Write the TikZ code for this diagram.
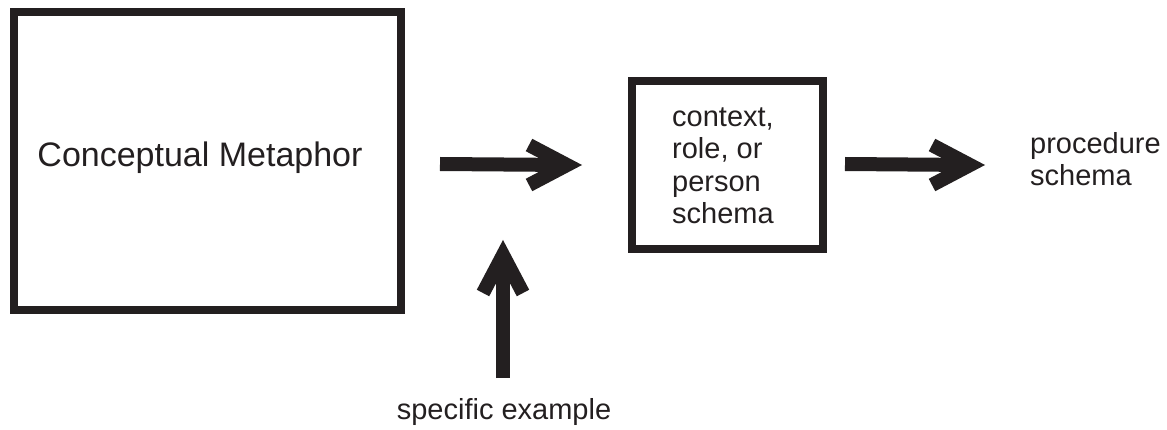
\documentclass[tikz,border=0pt]{standalone}
\usepackage{fontspec}
\setmainfont{Liberation Sans}
\definecolor{ink}{HTML}{231F20}
\begin{document}
\begin{tikzpicture}[x=1pt,y=-1pt,
  box/.style={draw=ink,line width=8pt,inner sep=0pt},
  bigtxt/.style={text=ink,font=\fontsize{34}{40}\selectfont,inner sep=0pt},
  smalltxt/.style={text=ink,font=\fontsize{29}{32.5}\selectfont,inner sep=0pt,align=left},
  shaft/.style={draw=ink,line width=14pt},
  chev/.style={draw=ink,line width=14pt,line join=miter,miter limit=10}]
\useasboundingbox (0,0) rectangle (1167,430);

% boxes
\node[box,minimum width=387pt,minimum height=298pt] (cm) at (207.5,161) {};
\node[bigtxt] (cmtext) at (200,158) {Conceptual Metaphor};
\node[box,minimum width=191pt,minimum height=168pt] (ctx) at (727.5,165) {};
\node[smalltxt,anchor=west] (ctxtext) at (672,166) {context,\\role, or\\person\\schema};

% free labels
\node[smalltxt,anchor=west] (proc) at (1030,159) {procedure\\schema};
\node[smalltxt] (ex) at (504,412) {specific example};

% arrow ends
\coordinate (a1s) at (440,164);
\coordinate (a1e) at (567,165);
\coordinate (a2s) at (845,164);
\coordinate (a2e) at (970,165);
\coordinate (a3s) at (503,378);
\coordinate (a3e) at (503,255);

% horizontal arrows
\draw[shaft] (a1s) -- (a1e);
\draw[chev] ([shift={(-38,-20)}]a1e) -- (a1e) -- ([shift={(-38,20)}]a1e);
\draw[shaft] (a2s) -- (a2e);
\draw[chev] ([shift={(-38,-20)}]a2e) -- (a2e) -- ([shift={(-38,20)}]a2e);

% vertical arrow
\draw[shaft] (a3s) -- (a3e);
\draw[chev] ([shift={(-20,38)}]a3e) -- (a3e) -- ([shift={(20,38)}]a3e);
\end{tikzpicture}
\end{document}
